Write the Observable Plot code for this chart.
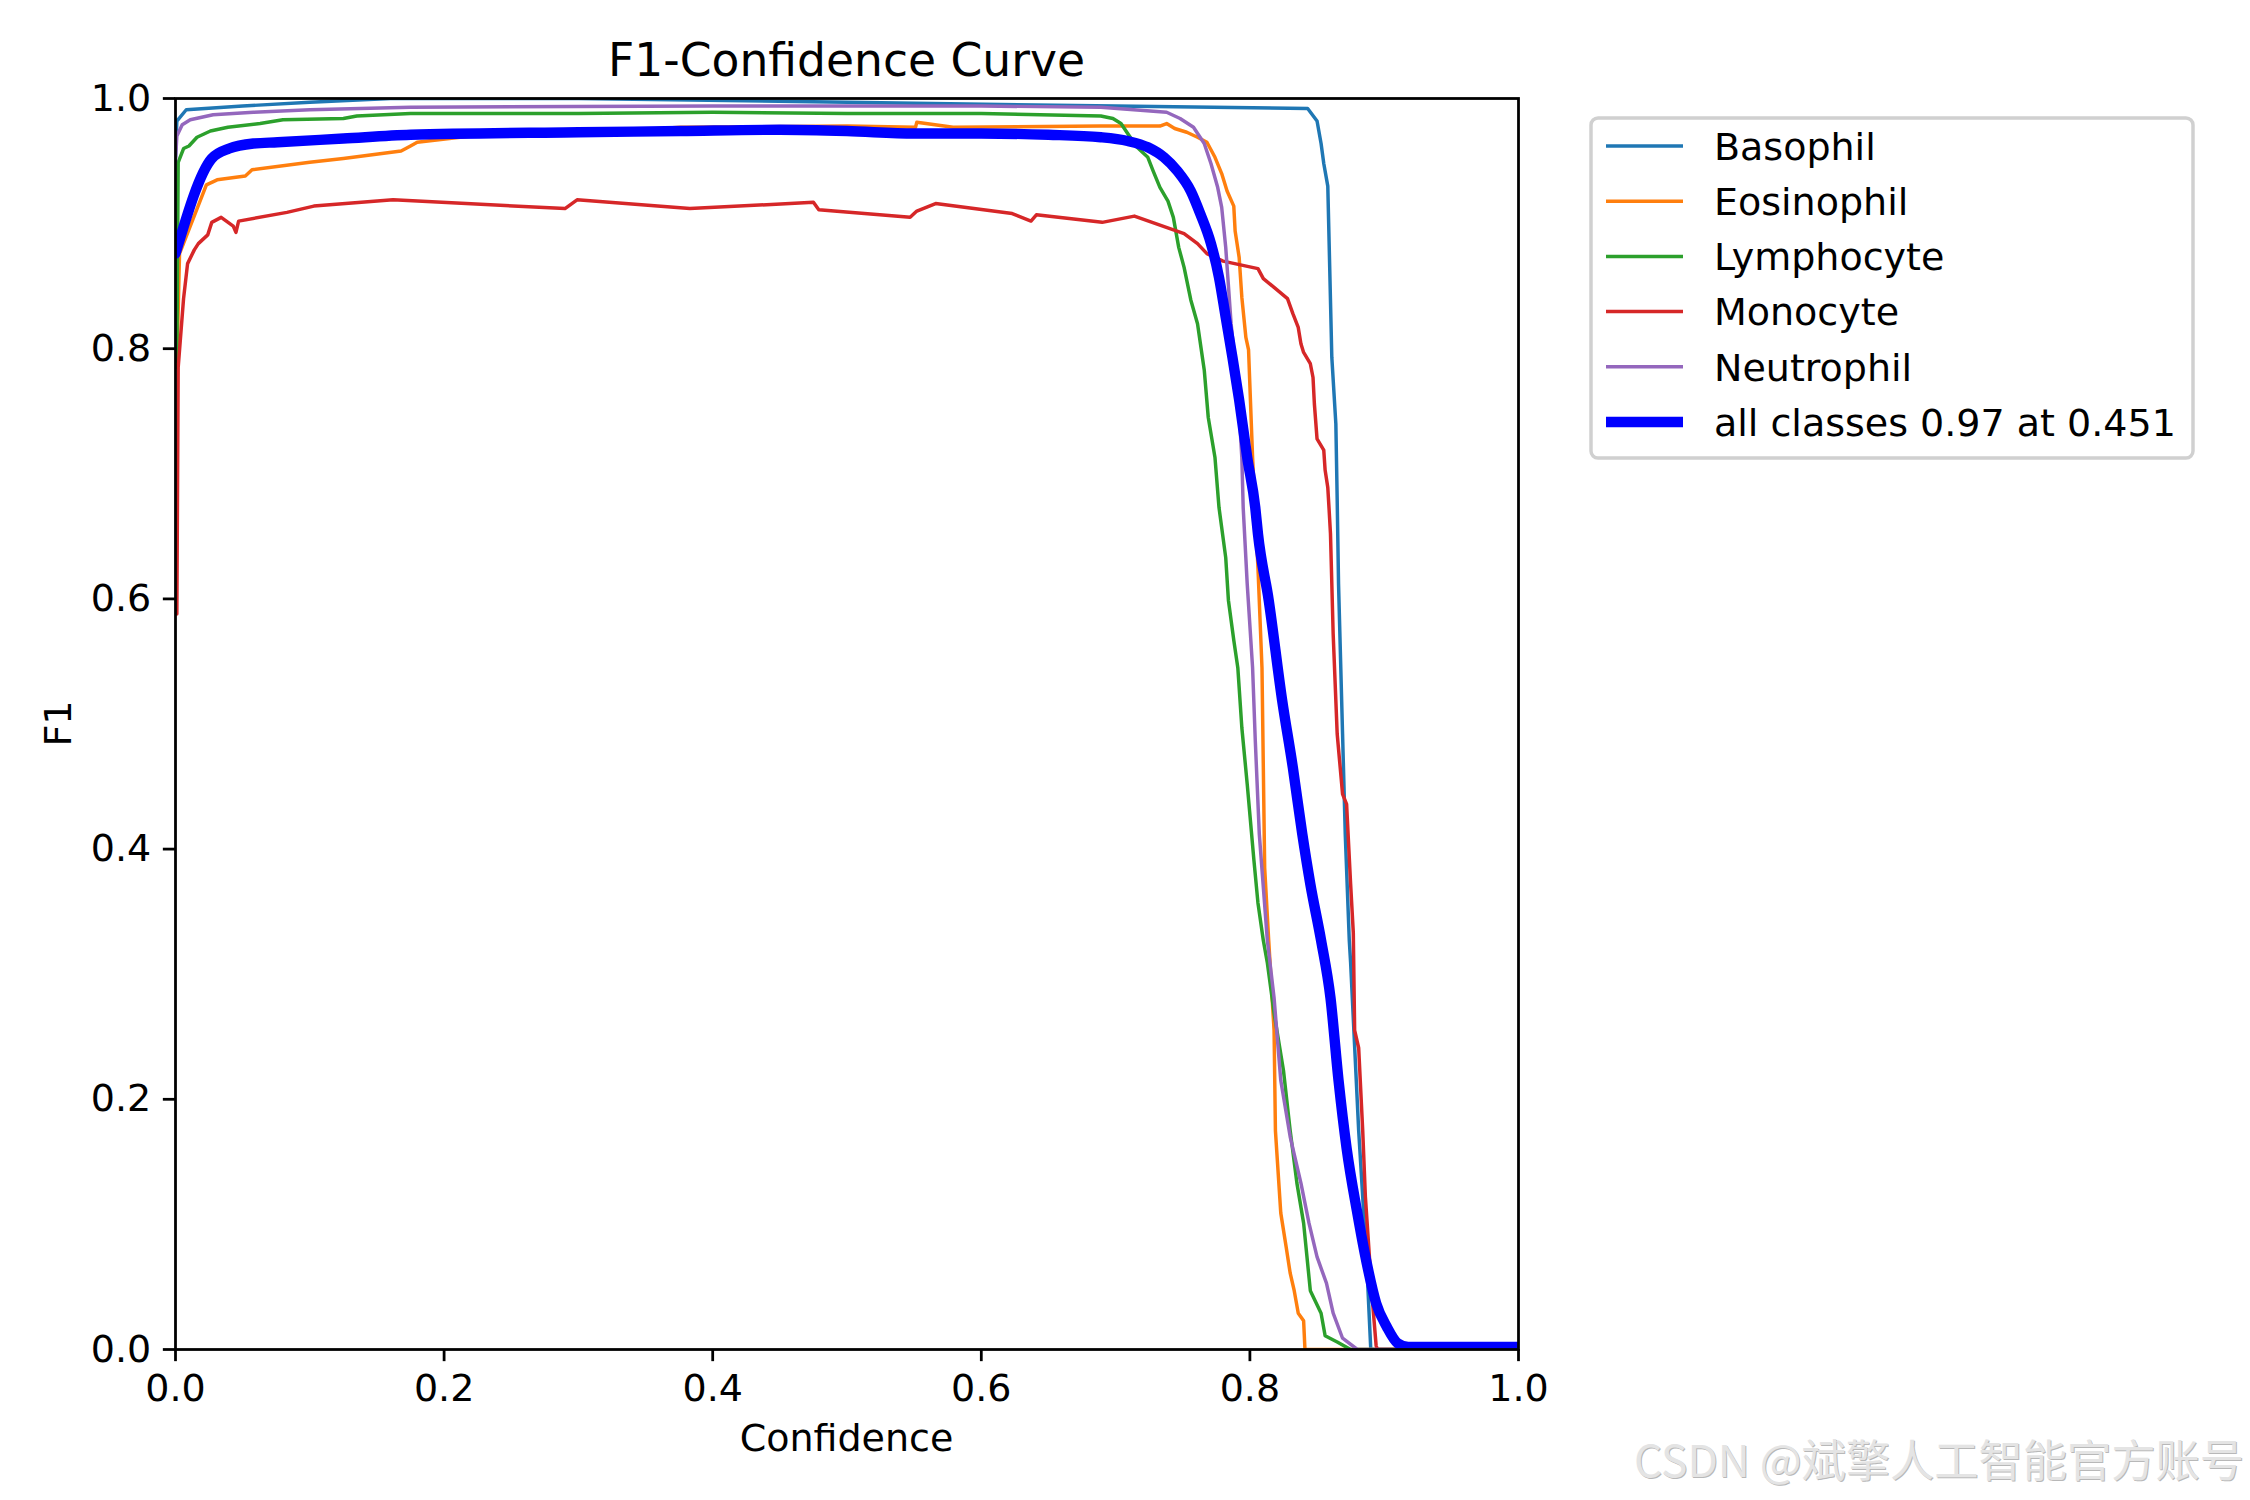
<!DOCTYPE html>
<html>
<head>
<meta charset="utf-8">
<script src="https://cdn.jsdelivr.net/npm/d3@7"></script>
<script src="https://cdn.jsdelivr.net/npm/@observablehq/plot@0.6"></script>
<style>
  html, body { margin: 0; padding: 0; background: #fff; }
  #chart svg { display: block; }
</style>
</head>
<body>
<div id="chart"></div>
<script>
// F1 vs confidence, one curve per class as [confidence, f1]
let basophil = [
  [0, 0.953], [0.001, 0.982], [0.008, 0.991], [0.05, 0.994], [0.1, 0.997], [0.16, 1.0],
  [0.3, 1.0], [0.5, 0.997], [0.7, 0.994], [0.843, 0.992], [0.85, 0.982], [0.853, 0.964],
  [0.855, 0.948], [0.858, 0.93], [0.861, 0.793], [0.864, 0.74], [0.865, 0.679],
  [0.866, 0.612], [0.869, 0.492], [0.871, 0.412], [0.874, 0.327], [0.875, 0.309],
  [0.881, 0.175], [0.887, 0.069], [0.89, 0], [1, 0]
];
let eosinophil = [
  [0.001, 0.785], [0.003, 0.876], [0.023, 0.931], [0.031, 0.935], [0.052, 0.938],
  [0.057, 0.943], [0.1, 0.949], [0.125, 0.952], [0.168, 0.958], [0.175, 0.962],
  [0.18, 0.965], [0.22, 0.97], [0.3, 0.972], [0.376, 0.977], [0.5, 0.978], [0.551, 0.977],
  [0.552, 0.981], [0.579, 0.977], [0.689, 0.978], [0.733, 0.978], [0.738, 0.98],
  [0.744, 0.976], [0.753, 0.973], [0.761, 0.969], [0.768, 0.965], [0.774, 0.953],
  [0.779, 0.94], [0.783, 0.926], [0.788, 0.914], [0.789, 0.894], [0.792, 0.873],
  [0.794, 0.841], [0.797, 0.809], [0.799, 0.799], [0.802, 0.713], [0.806, 0.625],
  [0.809, 0.545], [0.81, 0.465], [0.811, 0.385], [0.814, 0.327], [0.818, 0.255],
  [0.819, 0.175], [0.823, 0.109], [0.827, 0.082], [0.83, 0.061], [0.833, 0.047],
  [0.836, 0.029], [0.84, 0.023], [0.841, 0], [1, 0]
];
let lymphocyte = [
  [0.001, 0.79], [0.002, 0.949], [0.006, 0.96], [0.01, 0.962], [0.016, 0.969],
  [0.026, 0.974], [0.039, 0.977], [0.063, 0.98], [0.08, 0.983], [0.125, 0.984],
  [0.135, 0.986], [0.175, 0.988], [0.3, 0.988], [0.4, 0.989], [0.5, 0.988], [0.6, 0.988],
  [0.689, 0.986], [0.698, 0.984], [0.704, 0.98], [0.709, 0.972], [0.716, 0.961],
  [0.724, 0.953], [0.728, 0.942], [0.733, 0.929], [0.739, 0.918], [0.743, 0.905],
  [0.747, 0.881], [0.751, 0.865], [0.756, 0.839], [0.761, 0.82], [0.766, 0.783],
  [0.769, 0.745], [0.774, 0.713], [0.777, 0.673], [0.782, 0.633], [0.784, 0.599],
  [0.788, 0.567], [0.791, 0.545], [0.794, 0.497], [0.798, 0.452], [0.803, 0.391],
  [0.806, 0.357], [0.81, 0.327], [0.813, 0.309], [0.818, 0.269], [0.825, 0.223],
  [0.83, 0.175], [0.835, 0.133], [0.84, 0.101], [0.845, 0.047], [0.853, 0.029],
  [0.856, 0.011], [0.865, 0.006], [0.875, 0], [1, 0]
];
let monocyte = [
  [0.001, 0.588], [0.002, 0.785], [0.006, 0.84], [0.009, 0.868], [0.014, 0.879],
  [0.017, 0.884], [0.024, 0.891], [0.027, 0.901], [0.034, 0.905], [0.043, 0.898],
  [0.045, 0.893], [0.047, 0.902], [0.083, 0.909], [0.103, 0.914], [0.162, 0.919],
  [0.29, 0.912], [0.299, 0.919], [0.383, 0.912], [0.475, 0.917], [0.479, 0.911],
  [0.547, 0.905], [0.552, 0.91], [0.566, 0.916], [0.623, 0.908], [0.637, 0.902],
  [0.641, 0.907], [0.69, 0.901], [0.714, 0.906], [0.751, 0.892], [0.761, 0.884],
  [0.768, 0.876], [0.78, 0.87], [0.806, 0.864], [0.81, 0.856], [0.818, 0.849],
  [0.828, 0.84], [0.832, 0.828], [0.836, 0.817], [0.838, 0.804], [0.84, 0.797],
  [0.845, 0.788], [0.847, 0.777], [0.848, 0.756], [0.85, 0.728], [0.855, 0.719],
  [0.856, 0.703], [0.858, 0.689], [0.859, 0.671], [0.86, 0.652], [0.862, 0.572],
  [0.865, 0.492], [0.869, 0.444], [0.872, 0.436], [0.875, 0.372], [0.877, 0.333],
  [0.878, 0.255], [0.881, 0.241], [0.884, 0.175], [0.886, 0.122], [0.891, 0.042],
  [0.894, 0.003], [0.895, 0], [1, 0]
];
let neutrophil = [
  [0, 0.95], [0.001, 0.97], [0.005, 0.979], [0.011, 0.983], [0.028, 0.987],
  [0.058, 0.989], [0.1, 0.991], [0.175, 0.993], [0.4, 0.994], [0.6, 0.994],
  [0.689, 0.993], [0.738, 0.989], [0.748, 0.984], [0.758, 0.977], [0.766, 0.964],
  [0.771, 0.948], [0.776, 0.929], [0.779, 0.913], [0.782, 0.881], [0.786, 0.82],
  [0.791, 0.767], [0.794, 0.713], [0.795, 0.673], [0.798, 0.612], [0.802, 0.545],
  [0.804, 0.487], [0.807, 0.412], [0.813, 0.327], [0.818, 0.281], [0.823, 0.215],
  [0.83, 0.17], [0.838, 0.133], [0.844, 0.101], [0.85, 0.074], [0.857, 0.053],
  [0.862, 0.029], [0.869, 0.009], [0.88, 0], [1, 0]
];
let allClasses = [
  [0, 0.876], [0.027, 0.952], [0.04, 0.96], [0.058, 0.964], [0.076, 0.965],
  [0.125, 0.968], [0.175, 0.971], [0.3, 0.973], [0.376, 0.974], [0.45, 0.975],
  [0.5, 0.974], [0.55, 0.972], [0.6, 0.972], [0.65, 0.971], [0.689, 0.969],
  [0.709, 0.966], [0.724, 0.961], [0.736, 0.953], [0.746, 0.942], [0.756, 0.926],
  [0.763, 0.908], [0.771, 0.884], [0.777, 0.857], [0.782, 0.825], [0.787, 0.793],
  [0.792, 0.759], [0.798, 0.713], [0.804, 0.673], [0.806, 0.652], [0.814, 0.599],
  [0.824, 0.519], [0.832, 0.465], [0.839, 0.412], [0.845, 0.372], [0.853, 0.327],
  [0.86, 0.281], [0.866, 0.215], [0.872, 0.161], [0.88, 0.109], [0.887, 0.069],
  [0.894, 0.037], [0.902, 0.018], [0.91, 0.005], [0.918, 0.002], [1, 0.002]
];

let classNames = ["Basophil", "Eosinophil", "Lymphocyte", "Monocyte", "Neutrophil"];
let classColors = ["#1f77b4", "#ff7f0e", "#2ca02c", "#d62728", "#9467bd"];
let allLabel = "all classes 0.97 at 0.451";
let tickValues = [0, 0.2, 0.4, 0.6, 0.8, 1.0];

let W = 2250;
let H = 1500;
// matplotlib at 250 dpi: 1pt = 250/72 px
let pt = 250 / 72;
let fs = 38;       // tick / label / legend text
let fsTitle = 45.6;
let m = { left: 175, right: 732, top: 98, bottom: 151 };
let font = "DejaVu Sans, Liberation Sans, sans-serif";

let classSeries = [basophil, eosinophil, lymphocyte, monocyte, neutrophil];

let lineMarks = classSeries.map((s, i) =>
  Plot.line(s, {
    x: (d) => d[0],
    y: (d) => d[1],
    stroke: classColors[i],
    strokeWidth: pt,
    strokeLinejoin: "round",
    clip: true
  })
);

let chart = Plot.plot({
  width: W,
  height: H,
  marginLeft: m.left,
  marginRight: m.right,
  marginTop: m.top,
  marginBottom: m.bottom,
  style: { fontFamily: font, fontSize: fs + "px", color: "black", background: "white" },
  x: { domain: [0, 1] },
  y: { domain: [0, 1] },
  marks: [
    ...lineMarks,
    Plot.line(allClasses, {
      x: (d) => d[0],
      y: (d) => d[1],
      stroke: "#0000ff",
      strokeWidth: 3 * pt,
      strokeLinejoin: "round",
      curve: "monotone-x",
      clip: true
    }),
    Plot.frame({ stroke: "black", strokeWidth: 0.8 * pt }),
    Plot.axisX({
      ticks: tickValues,
      tickFormat: d3.format(".1f"),
      tickSize: 3.5 * pt,
      tickPadding: 3.5 * pt,
      strokeWidth: 0.8 * pt,
      label: null
    }),
    Plot.axisY({
      ticks: tickValues,
      tickFormat: d3.format(".1f"),
      tickSize: 3.5 * pt,
      tickPadding: 3.5 * pt,
      strokeWidth: 0.8 * pt,
      label: null
    })
  ]
});

d3.select("#chart").append(() => chart);

let svg = d3.select(chart);
let cx = (m.left + (W - m.right)) / 2;

// title and axis labels
svg.append("text")
  .attr("x", cx).attr("y", 76)
  .attr("text-anchor", "middle")
  .attr("font-family", font).attr("font-size", fsTitle)
  .attr("fill", "black")
  .text("F1-Confidence Curve");

svg.append("text")
  .attr("x", cx).attr("y", 1451)
  .attr("text-anchor", "middle")
  .attr("font-family", font).attr("font-size", fs)
  .attr("fill", "black")
  .text("Confidence");

svg.append("text")
  .attr("transform", `translate(71,${(m.top + H - m.bottom) / 2}) rotate(-90)`)
  .attr("text-anchor", "middle")
  .attr("font-family", font).attr("font-size", fs)
  .attr("fill", "black")
  .text("F1");

// legend, upper left outside the axes
let lg = svg.append("g").attr("text-anchor", "start");
lg.append("rect")
  .attr("x", 1591).attr("y", 118)
  .attr("width", 602).attr("height", 340)
  .attr("rx", 7).attr("ry", 7)
  .attr("fill", "white").attr("fill-opacity", 0.8)
  .attr("stroke", "#d0d0d0").attr("stroke-width", pt);

let legendRows = classNames.map((n, i) => ({ name: n, color: classColors[i], w: pt }))
  .concat([{ name: allLabel, color: "#0000ff", w: 3 * pt }]);

legendRows.forEach((r, i) => {
  let yc = 146 + i * 55.2;
  lg.append("line")
    .attr("x1", 1606).attr("x2", 1683)
    .attr("y1", yc).attr("y2", yc)
    .attr("stroke", r.color).attr("stroke-width", r.w);
  lg.append("text")
    .attr("x", 1714).attr("y", yc + 13.8)
    .attr("text-anchor", "start")
    .attr("font-family", font).attr("font-size", fs)
    .attr("fill", "black")
    .text(r.name);
});

// watermark bottom right
let wm = "CSDN @斌擎人工智能官方账号";
[["#b8b8b8", 1635, 1478], ["#e4e4e4", 1634, 1477]].forEach(([c, x, y]) => {
  svg.append("text")
    .attr("x", x).attr("y", y)
    .attr("text-anchor", "start")
    .attr("font-family", "Noto Sans CJK SC, sans-serif").attr("font-size", 44)
    .attr("textLength", 610).attr("lengthAdjust", "spacingAndGlyphs")
    .attr("fill", c)
    .text(wm);
});
</script>
</body>
</html>
